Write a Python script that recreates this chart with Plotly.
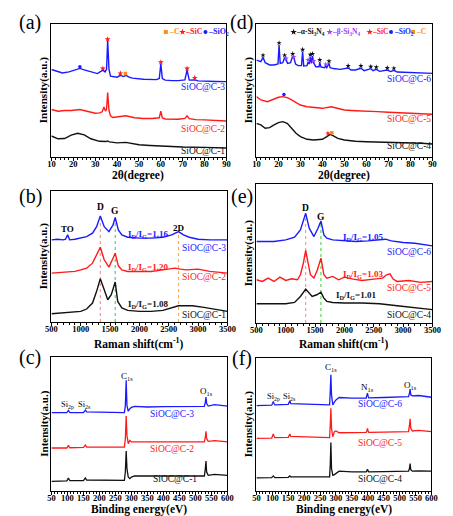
import plotly.graph_objects as go

W, H = 453, 516
FONT = "Liberation Serif"
BLUE, RED, BLACK = "#1a1aff", "#ff1a1a", "#111111"
ORANGE, PURPLE = "#ff8c1a", "#a040ff"

# ---------------- (a) XRD SiOC@C-1..3 ----------------
a_x3 = [10, 13, 15, 18, 21, 23, 25, 28, 31, 33.5, 34.5, 35.2, 35.7, 36.3, 37, 40, 41.5, 43, 44, 45.5, 47, 52, 55, 58, 59.3, 60, 60.7, 62, 65, 68, 71, 72, 73, 75.5, 77, 80, 85, 90]
a_y3 = [0.658, 0.645, 0.632, 0.64, 0.655, 0.666, 0.655, 0.64, 0.627, 0.653, 0.64, 0.66, 0.875, 0.66, 0.608, 0.60, 0.614, 0.605, 0.614, 0.60, 0.593, 0.585, 0.582, 0.582, 0.59, 0.70, 0.59, 0.578, 0.574, 0.574, 0.58, 0.653, 0.578, 0.58, 0.572, 0.569, 0.568, 0.567]
a_x2 = [10, 13, 16, 19, 23, 27, 30, 32, 33.2, 34, 34.7, 35.2, 35.7, 36.3, 37, 38, 41, 44, 48, 52, 56, 59.3, 60, 60.7, 62, 65, 68, 71, 72, 73, 76, 80, 85, 90]
a_y2 = [0.357, 0.344, 0.35, 0.35, 0.357, 0.343, 0.329, 0.332, 0.34, 0.376, 0.345, 0.36, 0.485, 0.35, 0.31, 0.297, 0.302, 0.31, 0.295, 0.289, 0.289, 0.295, 0.344, 0.293, 0.286, 0.284, 0.284, 0.29, 0.31, 0.288, 0.281, 0.279, 0.275, 0.271]
a_x1 = [10, 13, 16, 19, 22, 25, 28, 32, 35, 35.7, 36.5, 40, 44, 47, 50, 55, 60, 65, 70, 80, 90]
a_y1 = [0.158, 0.137, 0.139, 0.165, 0.178, 0.167, 0.137, 0.118, 0.116, 0.121, 0.114, 0.106, 0.11, 0.101, 0.092, 0.087, 0.082, 0.078, 0.075, 0.072, 0.068]
a_sic_x = [33.5, 35.7, 41.5, 60, 72, 75.5]
a_sic_y = [0.665, 0.885, 0.628, 0.712, 0.665, 0.595]
a_c_x, a_c_y = [43.8], [0.628]
a_sio2_x, a_sio2_y = [23], [0.678]

# ---------------- (d) XRD SiOC@C-4..6 ----------------
d_x6 = [10, 12, 13, 14, 16, 18, 19.8, 20.3, 20.8, 22, 22.8, 23.5, 24.2, 25.5, 26.5, 27.1, 27.8, 29, 30.5, 31, 31.5, 33, 33.5, 34, 34.5, 35, 35.5, 36, 37, 38.5, 38.8, 39.3, 41, 41.5, 42, 43, 43.5, 45, 48, 51.7, 53, 55, 57.5, 59, 62, 63, 64.5, 66, 69.5, 71, 72.5, 74, 80, 85, 90]
d_y6 = [0.729, 0.717, 0.749, 0.709, 0.692, 0.692, 0.699, 0.842, 0.704, 0.709, 0.749, 0.729, 0.704, 0.709, 0.759, 0.742, 0.699, 0.687, 0.687, 0.792, 0.684, 0.687, 0.714, 0.699, 0.754, 0.704, 0.759, 0.709, 0.679, 0.679, 0.714, 0.677, 0.672, 0.684, 0.672, 0.704, 0.672, 0.665, 0.659, 0.669, 0.654, 0.654, 0.667, 0.649, 0.664, 0.649, 0.659, 0.644, 0.654, 0.642, 0.652, 0.639, 0.634, 0.632, 0.629]
d_x5 = [10, 12, 15, 18, 20, 22, 24, 26, 30, 33, 36, 40, 44, 47, 50, 55, 60, 65, 70, 75, 80, 85, 90]
d_y5 = [0.454, 0.429, 0.416, 0.434, 0.449, 0.454, 0.446, 0.429, 0.391, 0.378, 0.373, 0.366, 0.378, 0.363, 0.353, 0.348, 0.346, 0.341, 0.336, 0.333, 0.328, 0.326, 0.321]
d_x4 = [10, 12, 14, 16, 18, 20, 22, 24, 26, 28, 30, 33, 36, 40, 42, 43.5, 45, 47, 50, 55, 60, 65, 70, 75, 80, 85, 90]
d_y4 = [0.253, 0.241, 0.216, 0.221, 0.241, 0.258, 0.266, 0.253, 0.216, 0.178, 0.153, 0.133, 0.128, 0.133, 0.153, 0.170, 0.158, 0.140, 0.128, 0.118, 0.115, 0.113, 0.110, 0.108, 0.108, 0.103, 0.098]
d_alpha_x = [13, 20.3, 22.8, 26.5, 31, 34.5, 35.5, 38.8, 43, 51.7, 57.5, 62, 64.5, 69.5, 72.5]
d_alpha_y = [0.765, 0.857, 0.765, 0.775, 0.807, 0.77, 0.775, 0.73, 0.72, 0.685, 0.685, 0.68, 0.675, 0.67, 0.667]
d_beta_x = [23.5, 27, 33.5, 36, 41.5]
d_beta_y = [0.742, 0.752, 0.73, 0.722, 0.697]
d_sio2_x, d_sio2_y = [22.5], [0.47]
d_sic_x, d_sic_y = [42.5], [0.178]
d_c_x, d_c_y = [44.3], [0.183]

# ---------------- (b) Raman SiOC@C-1..3 ----------------
b_x3 = [500, 600, 700, 740, 776, 810, 900, 1000, 1100, 1200, 1270, 1333, 1400, 1480, 1550, 1587, 1640, 1700, 1800, 2000, 2200, 2400, 2550, 2667, 2750, 2850, 3000, 3200, 3500]
b_y3 = [0.627, 0.632, 0.627, 0.632, 0.665, 0.627, 0.632, 0.640, 0.652, 0.678, 0.728, 0.810, 0.728, 0.690, 0.741, 0.799, 0.703, 0.665, 0.647, 0.640, 0.640, 0.647, 0.665, 0.690, 0.665, 0.647, 0.632, 0.627, 0.627]
b_x2 = [500, 700, 900, 1000, 1100, 1200, 1270, 1333, 1400, 1480, 1550, 1587, 1640, 1700, 1800, 2000, 2200, 2400, 2600, 2700, 2800, 3000, 3200, 3500]
b_y2 = [0.373, 0.378, 0.386, 0.398, 0.411, 0.449, 0.513, 0.571, 0.475, 0.419, 0.487, 0.525, 0.429, 0.398, 0.386, 0.386, 0.386, 0.398, 0.411, 0.404, 0.398, 0.404, 0.386, 0.373]
b_x1 = [500, 700, 900, 1000, 1100, 1200, 1270, 1333, 1400, 1460, 1520, 1587, 1630, 1700, 1800, 2000, 2200, 2400, 2667, 2900, 3100, 3300, 3500]
b_y1 = [0.063, 0.069, 0.074, 0.081, 0.099, 0.145, 0.234, 0.330, 0.246, 0.170, 0.208, 0.305, 0.157, 0.107, 0.089, 0.081, 0.081, 0.089, 0.124, 0.124, 0.112, 0.099, 0.081]
b_ratio = ["1.16", "1.20", "1.08"]

# ---------------- (e) Raman SiOC@C-4..6 ----------------
e_x6 = [500, 800, 1000, 1150, 1250, 1300, 1340, 1400, 1480, 1550, 1600, 1650, 1700, 1800, 2000, 2200, 2400, 2600, 2700, 2800, 3000, 3200, 3500]
e_y6 = [0.586, 0.586, 0.598, 0.617, 0.670, 0.730, 0.789, 0.682, 0.622, 0.682, 0.734, 0.634, 0.610, 0.598, 0.591, 0.586, 0.591, 0.598, 0.603, 0.591, 0.579, 0.574, 0.555]
e_x5 = [500, 600, 700, 800, 900, 1000, 1100, 1200, 1250, 1300, 1340, 1380, 1420, 1480, 1540, 1600, 1650, 1700, 1800, 1900, 2000, 2150, 2300, 2500, 2650, 2720, 2776, 2830, 2900, 3100, 3300, 3500]
e_y5 = [0.311, 0.299, 0.323, 0.299, 0.330, 0.306, 0.318, 0.311, 0.347, 0.431, 0.522, 0.419, 0.347, 0.323, 0.383, 0.467, 0.347, 0.323, 0.335, 0.311, 0.330, 0.316, 0.306, 0.316, 0.323, 0.347, 0.354, 0.316, 0.299, 0.306, 0.292, 0.299]
e_x4 = [500, 800, 1000, 1150, 1250, 1340, 1400, 1450, 1530, 1600, 1650, 1700, 1800, 2000, 2300, 2600, 2900, 3200, 3500]
e_y4 = [0.139, 0.139, 0.139, 0.148, 0.191, 0.244, 0.215, 0.191, 0.203, 0.222, 0.179, 0.156, 0.148, 0.144, 0.144, 0.139, 0.124, 0.112, 0.096]
e_ratio = ["1.05", "1.03", "1.01"]

# ---------------- (c) XPS SiOC@C-1..3 ----------------
c_x = [50, 98, 101, 103, 105, 108, 150, 153, 156, 160, 250, 278, 281, 283.6, 286, 290, 295, 300, 310, 350, 400, 450, 500, 528, 531, 533, 535, 540, 560, 580, 600]
c_y3 = [0.585, 0.585, 0.595, 0.602, 0.595, 0.585, 0.585, 0.600, 0.604, 0.590, 0.585, 0.585, 0.639, 0.826, 0.639, 0.595, 0.614, 0.624, 0.632, 0.627, 0.629, 0.629, 0.629, 0.632, 0.664, 0.701, 0.652, 0.634, 0.644, 0.639, 0.634]
c_y2 = [0.321, 0.321, 0.331, 0.341, 0.331, 0.323, 0.326, 0.338, 0.343, 0.328, 0.328, 0.328, 0.391, 0.560, 0.415, 0.353, 0.378, 0.366, 0.366, 0.366, 0.366, 0.366, 0.366, 0.366, 0.403, 0.445, 0.391, 0.371, 0.376, 0.373, 0.366]
c_y1 = [0.072, 0.075, 0.087, 0.097, 0.087, 0.077, 0.077, 0.092, 0.097, 0.082, 0.080, 0.080, 0.142, 0.299, 0.167, 0.104, 0.092, 0.104, 0.112, 0.112, 0.112, 0.112, 0.112, 0.112, 0.167, 0.224, 0.142, 0.117, 0.124, 0.122, 0.117]

# ---------------- (f) XPS SiOC@C-4..6 ----------------
f_x = [50, 98, 101, 103, 105, 108, 150, 153, 155, 158, 250, 280, 282, 284, 286, 290, 295, 300, 310, 350, 395, 397, 399, 401, 403, 450, 500, 528, 531, 533, 535, 540, 560, 580, 600]
f_y6 = [0.642, 0.645, 0.660, 0.673, 0.660, 0.647, 0.652, 0.668, 0.678, 0.657, 0.647, 0.647, 0.748, 0.874, 0.723, 0.647, 0.668, 0.685, 0.703, 0.698, 0.698, 0.710, 0.736, 0.713, 0.700, 0.703, 0.705, 0.710, 0.736, 0.766, 0.723, 0.715, 0.718, 0.713, 0.705]
f_y5 = [0.395, 0.398, 0.416, 0.428, 0.416, 0.401, 0.403, 0.421, 0.428, 0.411, 0.401, 0.401, 0.496, 0.622, 0.471, 0.408, 0.446, 0.451, 0.438, 0.441, 0.441, 0.451, 0.471, 0.451, 0.441, 0.443, 0.443, 0.446, 0.496, 0.542, 0.471, 0.451, 0.456, 0.453, 0.446]
f_y4 = [0.098, 0.101, 0.108, 0.113, 0.108, 0.101, 0.103, 0.111, 0.113, 0.106, 0.106, 0.106, 0.194, 0.365, 0.169, 0.118, 0.123, 0.131, 0.149, 0.144, 0.144, 0.151, 0.164, 0.151, 0.144, 0.146, 0.146, 0.149, 0.169, 0.207, 0.161, 0.149, 0.151, 0.151, 0.149]

labels_left = ["SiOC@C-3", "SiOC@C-2", "SiOC@C-1"]
labels_right = ["SiOC@C-6", "SiOC@C-5", "SiOC@C-4"]
colors = [BLUE, RED, BLACK]

# panel boxes in pixels: (left, top, right, bottom, xmin, xmax, dtick, minor dtick)
boxes = {
    "a": (47, 24, 228, 157, 10, 90, 10, 2),
    "b": (47, 191, 229, 322, 500, 3500, 500, 100),
    "c": (47, 357, 229, 491, 50, 600, 50, 10),
    "d": (259, 24, 441, 157, 10, 90, 10, 2),
    "e": (259, 184, 441, 323, 500, 3500, 500, 100),
    "f": (259, 358, 440, 491, 50, 600, 50, 10),
}
axis_id = {"a": "", "b": "2", "c": "3", "d": "4", "e": "5", "f": "6"}

fig = go.Figure()
layout = dict(width=W, height=H, margin=dict(l=0, r=0, t=0, b=0, pad=0), autosize=False,
              paper_bgcolor="white", plot_bgcolor="white", showlegend=False,
              font=dict(family=FONT, color="black"))
for p, (l, t, r, b, x0, x1, dt, mdt) in boxes.items():
    k = axis_id[p]
    layout["xaxis" + k] = dict(domain=[l / W, r / W], range=[x0, x1], anchor="y" + k,
                               showline=True, linecolor="black", linewidth=1.3, mirror=True,
                               ticks="outside", ticklen=2.5, tickwidth=1, tickcolor="black",
                               dtick=dt, tick0=x0, tickangle=0, ticklabelstandoff=-4,
                               showgrid=False, zeroline=False,
                               tickfont=dict(family=FONT, size=8.5, color="black", weight="bold"),
                               minor=dict(ticks="outside", ticklen=1.5, dtick=mdt, tickcolor="black", tickwidth=0.8, showgrid=False))
    layout["yaxis" + k] = dict(domain=[1 - b / H, 1 - t / H], range=[0, 1], anchor="x" + k,
                               showline=True, linecolor="black", linewidth=1.3, mirror=True,
                               ticks="", showticklabels=False, showgrid=False, zeroline=False)
fig.update_layout(**layout)

def ax(p):
    k = axis_id[p]
    return dict(xaxis="x" + k, yaxis="y" + k)

def line(p, x, y, c, w=1.4):
    fig.add_trace(go.Scatter(x=x, y=y, mode="lines", line=dict(color=c, width=w), hoverinfo="skip", **ax(p)))

def marks(p, x, y, c, sym, size):
    fig.add_trace(go.Scatter(x=x, y=y, mode="markers", marker=dict(color=c, symbol=sym, size=size, line=dict(width=0)), hoverinfo="skip", **ax(p)))

def vdot(p, xv, ytop, c):
    fig.add_trace(go.Scatter(x=[xv, xv], y=[0, ytop], mode="lines", line=dict(color=c, width=1, dash="dot"), hoverinfo="skip", **ax(p)))

ann = []
def text(p, x, y, s, size=9, color="black", bold=False, xanchor="center", yanchor="middle"):
    k = axis_id[p]
    ann.append(dict(x=x, y=y, xref="x" + k, yref="y" + k, text=s, showarrow=False,
                    xanchor=xanchor, yanchor=yanchor, borderpad=0,
                    font=dict(family=FONT, size=size, color=color, weight="bold" if bold else "normal")))

def ptext(px, py, s, size=9, bold=False, angle=0, xanchor="center"):
    ann.append(dict(x=px / W, y=1 - py / H, xref="paper", yref="paper", text=s, showarrow=False,
                    textangle=angle, xanchor=xanchor, yanchor="middle", borderpad=0,
                    font=dict(family=FONT, size=size, color="black", weight="bold" if bold else "normal")))

# (a)
for x, y, c in [(a_x3, a_y3, BLUE), (a_x2, a_y2, RED), (a_x1, a_y1, BLACK)]:
    line("a", x, y, c)
marks("a", a_sic_x, a_sic_y, RED, "star", 4.5)
marks("a", a_c_x, a_c_y, ORANGE, "square", 3.5)
marks("a", a_sio2_x, a_sio2_y, BLUE, "circle", 3.5)
leg_a = [(62.3, ORANGE, "square", "–C"), (69.9, RED, "star", "–SiC"), (80.4, BLUE, "circle", "–SiO<sub>2</sub>")]
for xm, c, sym, s in leg_a:
    marks("a", [xm], [0.94], c, sym, 5 if sym == "star" else 4)
    text("a", xm + 0.8, 0.94, s, 8, c, True, "left")
for s, y, c in zip(labels_left, [0.527, 0.214, 0.042], colors):
    text("a", 90, y, s, 9.5, c, False, "right")

# (d)
for x, y, c in [(d_x6, d_y6, BLUE), (d_x5, d_y5, RED), (d_x4, d_y4, BLACK)]:
    line("d", x, y, c)
marks("d", d_alpha_x, d_alpha_y, BLACK, "star", 4)
marks("d", d_beta_x, d_beta_y, PURPLE, "star", 4)
marks("d", d_sio2_x, d_sio2_y, BLUE, "circle", 3.5)
marks("d", d_sic_x, d_sic_y, RED, "star", 4)
marks("d", d_c_x, d_c_y, ORANGE, "square", 3.5)
leg_d = [(26.9, BLACK, "star", "–α-Si<sub>3</sub>N<sub>4</sub>"), (43.3, PURPLE, "star", "–β-Si<sub>3</sub>N<sub>4</sub>"),
         (61.5, RED, "star", "–SiC"), (71.2, BLUE, "circle", "–SiO<sub>2</sub>"), (81.2, ORANGE, "square", "–C")]
for xm, c, sym, s in leg_d:
    marks("d", [xm], [0.94], c, sym, 5 if sym == "star" else 4)
    text("d", xm + 0.8, 0.94, s, 7.5, c, True, "left")
for s, y, c in zip(labels_right, [0.584, 0.286, 0.083], colors):
    text("d", 90, y, s, 9.5, c, False, "right")

# (b)
vdot("b", 1333, 0.79, "#ff7f7f")
vdot("b", 1587, 0.755, "#33cc33")
vdot("b", 2667, 0.665, "#ffa040")
for x, y, c in [(b_x3, b_y3, BLUE), (b_x2, b_y2, RED), (b_x1, b_y1, BLACK)]:
    line("b", x, y, c)
text("b", 776, 0.71, "TO", 9, bold=True)
text("b", 1333, 0.878, "D", 9.5, bold=True)
text("b", 1587, 0.845, "G", 9.5, bold=True)
text("b", 2667, 0.72, "2D", 9, bold=True)
for r, y, c in zip(b_ratio, [0.665, 0.419, 0.132], colors):
    text("b", 2140, y, "I<sub>D</sub>/I<sub>G</sub>=" + r, 9, c, True)
for s, y, c in zip(labels_left, [0.563, 0.343, 0.05], colors):
    text("b", 3500, y, s, 9.5, c, False, "right")

# (e)
vdot("e", 1340, 0.78, "#ff7f7f")
vdot("e", 1600, 0.72, "#33cc33")
for x, y, c in [(e_x6, e_y6, BLUE), (e_x5, e_y5, RED), (e_x4, e_y4, BLACK)]:
    line("e", x, y, c)
text("e", 1340, 0.825, "D", 9.5, bold=True)
text("e", 1600, 0.762, "G", 9.5, bold=True)
for r, y, xc, c in zip(e_ratio, [0.617, 0.347, 0.196], [2310, 2310, 2200], colors):
    text("e", xc, y, "I<sub>D</sub>/I<sub>G</sub>=" + r, 9, c, True)
for s, y, c in zip(labels_right, [0.514, 0.251, 0.06], colors):
    text("e", 3500, y, s, 9.5, c, False, "right")

# (c)
for y, c in [(c_y3, BLUE), (c_y2, RED), (c_y1, BLACK)]:
    line("c", c_x, y, c, 1.3)
text("c", 101, 0.645, "Si<sub>2p</sub>", 8.5)
text("c", 152, 0.645, "Si<sub>2s</sub>", 8.5)
text("c", 285, 0.855, "C<sub>1s</sub>", 9)
text("c", 534, 0.74, "O<sub>1s</sub>", 9)
for s, y, xc, c in zip(labels_left, [0.577, 0.316, 0.087], [427, 427, 436], colors):
    text("c", xc, y, s, 9.5, c)

# (f)
for y, c in [(f_y6, BLUE), (f_y5, RED), (f_y4, BLACK)]:
    line("f", f_x, y, c, 1.3)
text("f", 103, 0.71, "Si<sub>2p</sub>", 8.5)
text("f", 154, 0.71, "Si<sub>2s</sub>", 8.5)
text("f", 285, 0.925, "C<sub>1s</sub>", 9)
text("f", 400, 0.78, "N<sub>1s</sub>", 9)
text("f", 534, 0.795, "O<sub>1s</sub>", 9)
for s, y, c in zip(labels_right, [0.655, 0.363, 0.088], colors):
    text("f", 437, y, s, 9.5, c)

# panel letters
for s, px, py in [("(a)", 25, 23), ("(d)", 244, 23), ("(b)", 25, 196), ("(e)", 244, 196), ("(c)", 25, 357), ("(f)", 244, 358)]:
    ptext(px, py, s, 20)

# axis titles
ptext(137, 176, "2θ(degree)", 11.5, True)
ptext(350, 176, "2θ(degree)", 11.5, True)
ptext(138, 343, "Raman shift(cm<sup>-1</sup>)", 11.5, True)
ptext(350, 343, "Raman shift(cm<sup>-1</sup>)", 11.5, True)
ptext(138, 509, "Binding energy(eV)", 11.5, True)
ptext(350, 509, "Binding energy(eV)", 11.5, True)
for px, (t, b) in [(39, (24, 157)), (251, (24, 157)), (39, (191, 322)), (251, (184, 323)), (39, (357, 491)), (251, (358, 491))]:
    ptext(px, (t + b) / 2, "Intensity(a.u.)", 11, True, -90)

fig.update_layout(annotations=ann)
fig.write_html("out.html", config={"displayModeBar": False},
               post_script="document.body.style.margin='0';document.body.style.overflow='hidden';")
